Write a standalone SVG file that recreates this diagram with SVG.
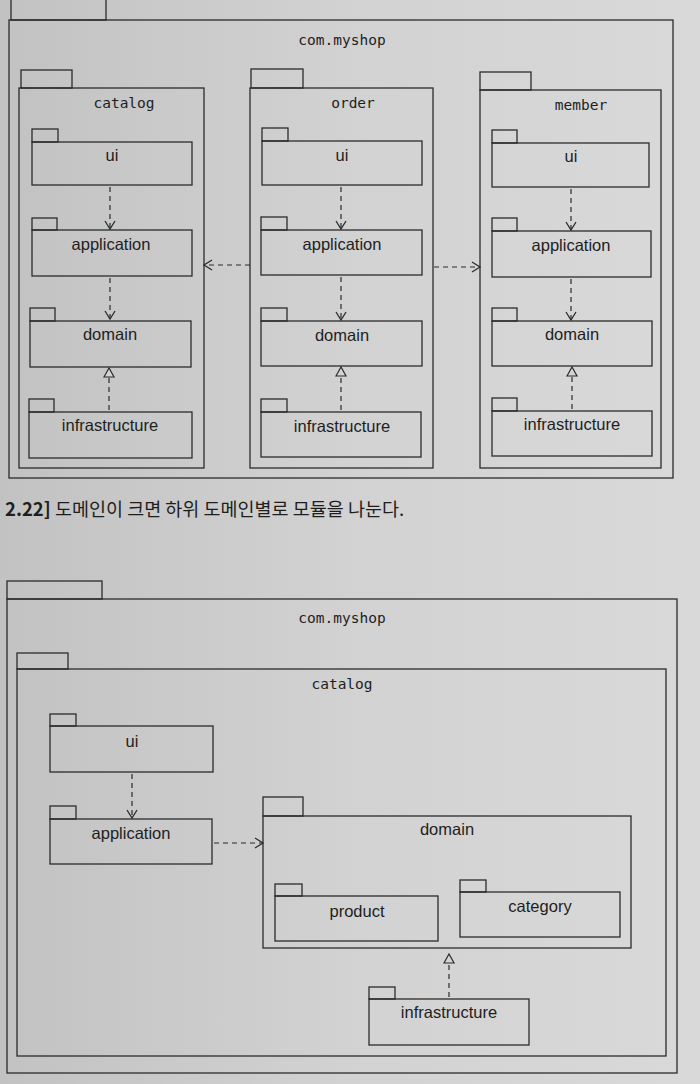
<svg xmlns="http://www.w3.org/2000/svg" width="700" height="1084" viewBox="0 0 700 1084">
<style>
.pk{fill:none;stroke:#2b2b2b;stroke-width:1.3}
.dep{fill:none;stroke:#2b2b2b;stroke-width:1.2;stroke-dasharray:5 4}
.mono{font-family:"DejaVu Sans Mono","Liberation Mono",monospace;font-size:14.5px;fill:#1e1e1e;text-anchor:middle}
.sans{font-family:"Liberation Sans","Arial",sans-serif;font-size:16.5px;fill:#1e1e1e;text-anchor:middle}
.cap{font-family:"Noto Sans CJK KR","Noto Sans",sans-serif;font-size:18.5px;fill:#1e1e1e}
</style>
<defs>
<linearGradient id="bg" x1="0" y1="0" x2="1" y2="0">
<stop offset="0" stop-color="#c2c2c2"/>
<stop offset="0.5" stop-color="#d2d2d2"/>
<stop offset="1" stop-color="#d9d9d9"/>
</linearGradient>
<marker id="open" markerWidth="12" markerHeight="12" refX="10" refY="6" orient="auto" markerUnits="userSpaceOnUse">
<path d="M2,1 L10,6 L2,11" fill="none" stroke="#2b2b2b" stroke-width="1.3"/>
</marker>
<marker id="tri" markerWidth="14" markerHeight="14" refX="11" refY="7" orient="auto" markerUnits="userSpaceOnUse">
<path d="M2,2 L11,7 L2,12 Z" fill="#d4d4d4" stroke="#2b2b2b" stroke-width="1.2"/>
</marker>
</defs>
<rect x="0" y="0" width="700" height="1084" fill="url(#bg)"/>

<!-- ===== Top diagram ===== -->
<g id="top-myshop">
<rect class="pk" x="11" y="-1" width="95" height="21"/>
<rect class="pk" x="9" y="20" width="664" height="458"/>
<text class="mono" x="342" y="45">com.myshop</text>
</g>

<g id="top-catalog">
<rect class="pk" x="21" y="70" width="51" height="18"/>
<rect class="pk" x="19" y="88" width="185" height="380"/>
<text class="mono" x="124" y="108">catalog</text>
</g>
<g id="top-catalog-ui">
<rect class="pk" x="32" y="129" width="26" height="13"/>
<rect class="pk" x="32" y="142" width="160" height="43"/>
<text class="sans" x="112" y="161">ui</text>
</g>
<g id="top-catalog-application">
<rect class="pk" x="32" y="218" width="25" height="12"/>
<rect class="pk" x="32" y="230" width="160" height="46"/>
<text class="sans" x="111" y="250">application</text>
</g>
<g id="top-catalog-domain">
<rect class="pk" x="30" y="308" width="25" height="13"/>
<rect class="pk" x="30" y="321" width="161" height="46"/>
<text class="sans" x="110" y="340">domain</text>
</g>
<g id="top-catalog-infrastructure">
<rect class="pk" x="29" y="399" width="25" height="13"/>
<rect class="pk" x="29" y="412" width="163" height="46"/>
<text class="sans" x="110" y="431">infrastructure</text>
</g>

<g id="top-order">
<rect class="pk" x="251" y="69" width="52" height="19"/>
<rect class="pk" x="250" y="88" width="183" height="380"/>
<text class="mono" x="353" y="108">order</text>
</g>
<g id="top-order-ui">
<rect class="pk" x="262" y="128" width="26" height="13"/>
<rect class="pk" x="262" y="141" width="160" height="44"/>
<text class="sans" x="342" y="161">ui</text>
</g>
<g id="top-order-application">
<rect class="pk" x="261" y="217" width="26" height="13"/>
<rect class="pk" x="261" y="230" width="161" height="45"/>
<text class="sans" x="342" y="250">application</text>
</g>
<g id="top-order-domain">
<rect class="pk" x="261" y="308" width="26" height="13"/>
<rect class="pk" x="261" y="321" width="161" height="45"/>
<text class="sans" x="342" y="341">domain</text>
</g>
<g id="top-order-infrastructure">
<rect class="pk" x="261" y="399" width="26" height="13"/>
<rect class="pk" x="261" y="412" width="160" height="45"/>
<text class="sans" x="342" y="432">infrastructure</text>
</g>

<g id="top-member">
<rect class="pk" x="480" y="72" width="51" height="18"/>
<rect class="pk" x="480" y="90" width="181" height="378"/>
<text class="mono" x="581" y="110">member</text>
</g>
<g id="top-member-ui">
<rect class="pk" x="492" y="130" width="25" height="13"/>
<rect class="pk" x="492" y="143" width="157" height="44"/>
<text class="sans" x="571" y="162">ui</text>
</g>
<g id="top-member-application">
<rect class="pk" x="492" y="218" width="25" height="13"/>
<rect class="pk" x="492" y="231" width="159" height="46"/>
<text class="sans" x="571" y="251">application</text>
</g>
<g id="top-member-domain">
<rect class="pk" x="492" y="308" width="25" height="13"/>
<rect class="pk" x="492" y="321" width="160" height="45"/>
<text class="sans" x="572" y="340">domain</text>
</g>
<g id="top-member-infrastructure">
<rect class="pk" x="492" y="398" width="25" height="13"/>
<rect class="pk" x="492" y="411" width="160" height="45"/>
<text class="sans" x="572" y="430">infrastructure</text>
</g>

<text class="cap" x="5" y="516"><tspan font-weight="bold">2.22]</tspan> 도메인이 크면 하위 도메인별로 모듈을 나눈다.</text>

<!-- ===== Bottom diagram ===== -->
<g id="bot-myshop">
<rect class="pk" x="7" y="581" width="95" height="18"/>
<rect class="pk" x="7" y="599" width="670" height="474"/>
<text class="mono" x="342" y="623">com.myshop</text>
</g>
<g id="bot-catalog">
<rect class="pk" x="17" y="653" width="51" height="16"/>
<rect class="pk" x="17" y="669" width="649" height="387"/>
<text class="mono" x="342" y="689">catalog</text>
</g>
<g id="bot-ui">
<rect class="pk" x="50" y="714" width="26" height="12"/>
<rect class="pk" x="50" y="726" width="163" height="46"/>
<text class="sans" x="132" y="747">ui</text>
</g>
<g id="bot-application">
<rect class="pk" x="50" y="806" width="26" height="13"/>
<rect class="pk" x="50" y="819" width="162" height="45"/>
<text class="sans" x="131" y="839">application</text>
</g>
<g id="bot-domain">
<rect class="pk" x="263" y="797" width="40" height="19"/>
<rect class="pk" x="263" y="816" width="368" height="132"/>
<text class="sans" x="447" y="835">domain</text>
</g>
<g id="bot-product">
<rect class="pk" x="275" y="884" width="27" height="12"/>
<rect class="pk" x="275" y="896" width="163" height="45"/>
<text class="sans" x="357" y="917">product</text>
</g>
<g id="bot-category">
<rect class="pk" x="460" y="880" width="26" height="12"/>
<rect class="pk" x="460" y="892" width="160" height="45"/>
<text class="sans" x="540" y="912">category</text>
</g>
<g id="bot-infrastructure">
<rect class="pk" x="369" y="987" width="26" height="12"/>
<rect class="pk" x="369" y="999" width="160" height="46"/>
<text class="sans" x="449" y="1018">infrastructure</text>
</g>

<g id="connectors">
<line class="dep" x1="110" y1="187" x2="110" y2="229" marker-end="url(#open)"/>
<line class="dep" x1="110" y1="278" x2="110" y2="319" marker-end="url(#open)"/>
<line class="dep" x1="109" y1="410" x2="109" y2="368" marker-end="url(#tri)"/>
<line class="dep" x1="341" y1="187" x2="341" y2="229" marker-end="url(#open)"/>
<line class="dep" x1="341" y1="277" x2="341" y2="320" marker-end="url(#open)"/>
<line class="dep" x1="341" y1="410" x2="341" y2="367" marker-end="url(#tri)"/>
<line class="dep" x1="571" y1="189" x2="571" y2="230" marker-end="url(#open)"/>
<line class="dep" x1="571" y1="279" x2="571" y2="320" marker-end="url(#open)"/>
<line class="dep" x1="572" y1="409" x2="572" y2="367" marker-end="url(#tri)"/>
<line class="dep" x1="250" y1="265" x2="204" y2="265" marker-end="url(#open)"/>
<line class="dep" x1="434" y1="267" x2="480" y2="267" marker-end="url(#open)"/>
<line class="dep" x1="132" y1="774" x2="132" y2="818" marker-end="url(#open)"/>
<line class="dep" x1="214" y1="843" x2="263" y2="843" marker-end="url(#open)"/>
<line class="dep" x1="449" y1="997" x2="449" y2="954" marker-end="url(#tri)"/>
</g>
</svg>
